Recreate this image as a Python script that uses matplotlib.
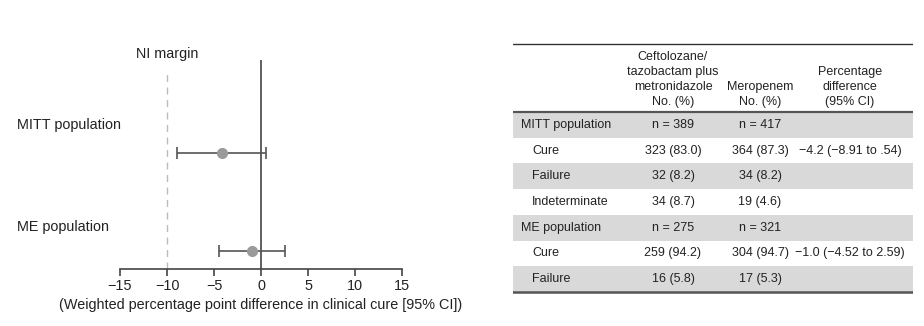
import matplotlib.pyplot as plt
from matplotlib.patches import Rectangle

plt.rcParams['font.family'] = ['Liberation Sans', 'DejaVu Sans']

# --- forest plot data ---
populations = ['MITT population', 'ME population']
diff = [-4.2, -1.0]
ci_low = [-8.91, -4.52]
ci_high = [0.54, 2.59]
ni_margin = -10
xticks = [-15, -10, -5, 0, 5, 10, 15]

# --- table data ---
col_headers = ['Ceftolozane/\ntazobactam plus\nmetronidazole\nNo. (%)',
               'Meropenem\nNo. (%)',
               'Percentage\ndifference\n(95% CI)']
row_labels = ['MITT population', 'Cure', 'Failure', 'Indeterminate',
              'ME population', 'Cure', 'Failure']
col_cef = ['n = 389', '323 (83.0)', '32 (8.2)', '34 (8.7)',
           'n = 275', '259 (94.2)', '16 (5.8)']
col_mero = ['n = 417', '364 (87.3)', '34 (8.2)', '19 (4.6)',
            'n = 321', '304 (94.7)', '17 (5.3)']
col_diff = ['', '\u22124.2 (\u22128.91 to .54)', '', '',
            '', '\u22121.0 (\u22124.52 to 2.59)', '']

W, H = 924, 326
fig = plt.figure(figsize=(W / 100, H / 100), dpi=100)
txt = '#222222'

# ---------------- forest plot ----------------
ax = fig.add_axes([120 / W, 57 / H, 282 / W, 209 / H])
ax.set_xlim(-15, 15)
ax.set_ylim(0, 1)
point_y = [0.555, 0.086]
label_y = [0.69, 0.20]

ax.plot([0, 0], [0, 1.0], color='#444444', lw=1.2, zorder=1)
ax.plot([ni_margin, ni_margin], [0, 0.957], color='#bbbbbb', lw=1.0,
        dashes=(5, 4), zorder=1)
ax.text(ni_margin, 1.03, 'NI margin', ha='center', va='center',
        fontsize=10.4, color=txt, clip_on=False)

for i in range(len(populations)):
    ax.errorbar(diff[i], point_y[i],
                xerr=[[diff[i] - ci_low[i]], [ci_high[i] - diff[i]]],
                fmt='none', ecolor='#555555', elinewidth=1.2, capsize=4,
                capthick=1.2, zorder=2)
    ax.plot(diff[i], point_y[i], 'o', color='#9a9a9a', ms=7, zorder=3)
    ax.text(-25.95, label_y[i], populations[i], ha='left', va='center',
            fontsize=10.4, color=txt, clip_on=False)

for s in ['top', 'right', 'left']:
    ax.spines[s].set_visible(False)
ax.spines['bottom'].set_color('#444444')
ax.spines['bottom'].set_linewidth(1.2)
ax.set_yticks([])
ax.set_xticks(xticks)
ax.set_xticklabels([str(t).replace('-', '\u2212') for t in xticks])
ax.tick_params(axis='x', length=5, width=1.2, color='#444444',
               labelsize=10.4, labelcolor=txt, pad=2)
ax.set_xlabel('(Weighted percentage point difference in clinical cure [95% CI])',
              fontsize=10.4, color=txt, labelpad=4)

# ---------------- table ----------------
tb = fig.add_axes([513 / W, (H - 294) / H, 400 / W, 251 / H])
tb.set_xlim(0, 400)
tb.set_ylim(251, 0)
tb.axis('off')

header_h = 69
row_h = 25.7
col_x = [160, 247, 337]
fs = 9.0

tb.plot([0, 400], [0.5, 0.5], color='#333333', lw=1.0)
for j, h in enumerate(col_headers):
    tb.text(col_x[j], header_h - 4, h, ha='center', va='bottom',
            fontsize=fs, color=txt, linespacing=1.32)

for i, lab in enumerate(row_labels):
    y0 = header_h + i * row_h
    if i % 2 == 0:
        tb.add_patch(Rectangle((0, y0), 400, row_h, facecolor='#d9d9d9',
                               edgecolor='none', zorder=0))
    yc = y0 + row_h / 2
    indent = 8 if 'population' in lab else 19
    tb.text(indent, yc, lab, ha='left', va='center', fontsize=fs, color=txt)
    tb.text(col_x[0], yc, col_cef[i], ha='center', va='center', fontsize=fs, color=txt)
    tb.text(col_x[1], yc, col_mero[i], ha='center', va='center', fontsize=fs, color=txt)
    tb.text(col_x[2], yc, col_diff[i], ha='center', va='center', fontsize=fs, color=txt)

tb.plot([0, 400], [header_h, header_h], color='#555555', lw=1.6, zorder=2)
end_y = header_h + len(row_labels) * row_h
tb.plot([0, 400], [end_y, end_y], color='#555555', lw=1.8, zorder=2)

fig.savefig('out.png', dpi=100)
